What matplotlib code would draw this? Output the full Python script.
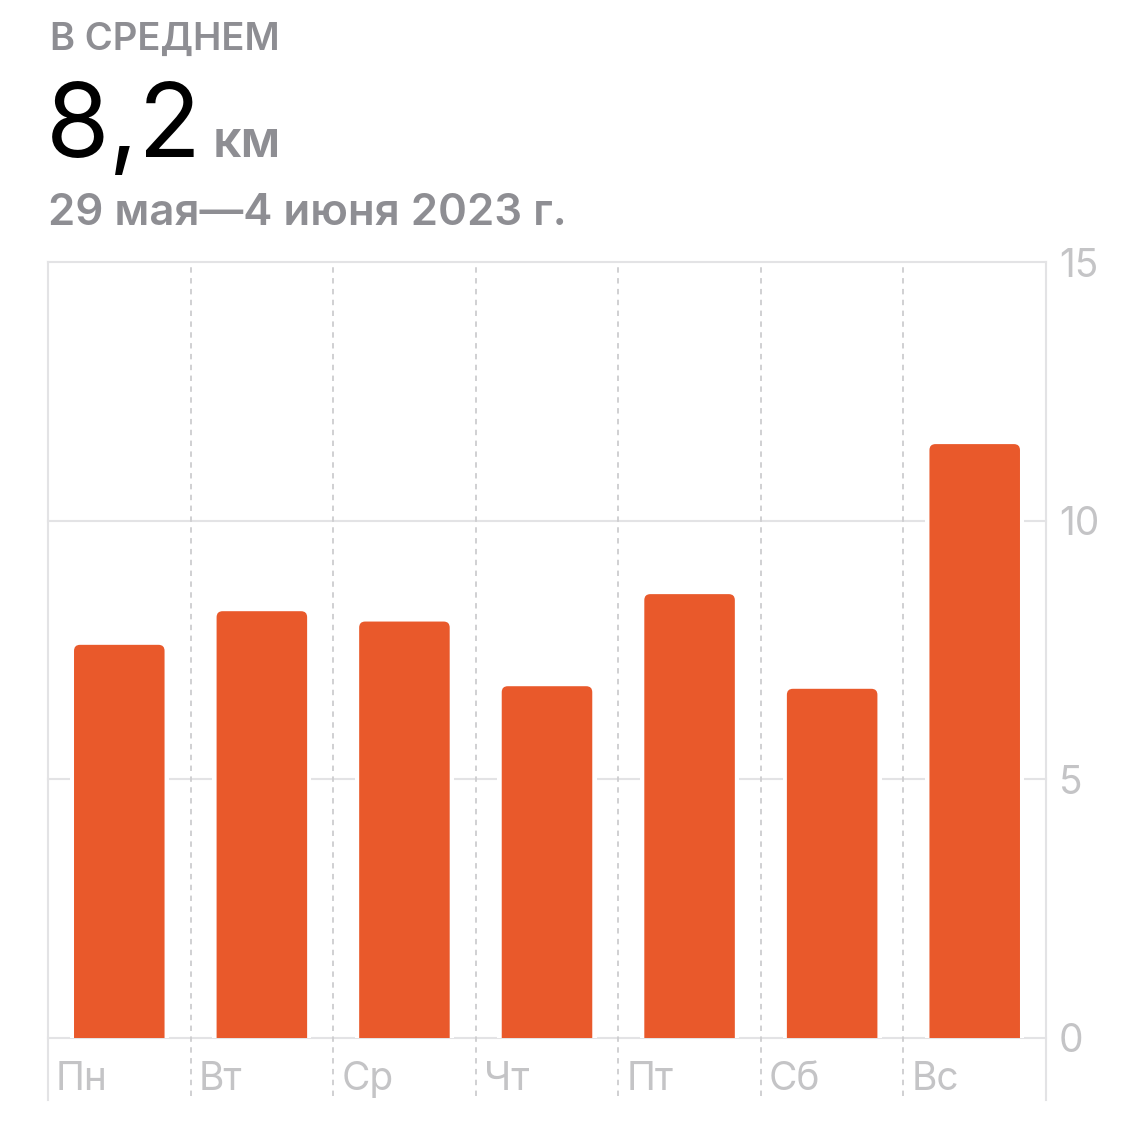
import matplotlib.pyplot as plt
from matplotlib.patches import FancyBboxPatch

# ==================== 数据 ====================
days = ["Пн", "Вт", "Ср", "Чт", "Пт", "Сб", "Вс"]
km = [7.6, 8.25, 8.05, 6.8, 8.58, 6.75, 11.48]
y_ticks = [0, 5, 10, 15]

title_small = "В СРЕДНЕМ"
avg_value = "8,2"
avg_unit = "км"
period = "29 мая—4 июня 2023 г."

# ==================== 样式 ====================
orange = "#E9592B"
gray_text = "#8E8E93"
tick_gray = "#C4C4C6"
grid_gray = "#E3E3E5"
dash_gray = "#CDCDCF"
plt.rcParams['font.family'] = ['Inter', 'DejaVu Sans']

W, H = 1125, 1136
fig = plt.figure(figsize=(W / 100, H / 100), dpi=100)
fig.patch.set_facecolor("white")

# plot area in pixels
left, right, top, bottom = 48, 1046, 262, 1038
ax = fig.add_axes([left / W, (H - bottom) / H, (right - left) / W, (bottom - top) / H])
ax.set_xlim(-0.5, len(days) - 0.5)
ax.set_ylim(0, 15)
ax.axis("off")

ext = -(1100 - bottom) / (bottom - top)  # how far lines go below the axis
sx = (right - left) / len(days)
sy = (bottom - top) / 15

# horizontal grid
for t in y_ticks:
    ax.axhline(t, color=grid_gray, lw=1.5, zorder=1, clip_on=False)
    ax.text(1.013, t - 4 / sy, str(t), transform=ax.get_yaxis_transform(), ha="left",
            va="center", fontsize=28, color=tick_gray)

# outer verticals
for xa in [0, 1]:
    ax.plot([xa, xa], [ext, 1], transform=ax.transAxes, color=grid_gray, lw=1.5,
            clip_on=False, zorder=1)

# dashed separators between days
for i in range(1, len(days)):
    ax.plot([i - 0.5, i - 0.5], [ext * 15 * 0.93, 15], color=dash_gray, lw=1.3,
            linestyle=(0, (3, 3)), clip_on=False, zorder=1)

# bars: white halo to break the grid, then rounded orange bars
x = list(range(len(days)))
bar_w = 0.635
ax.bar(x, [v + 0.08 for v in km], width=bar_w + 0.06, color="white", zorder=2)
r = 6 / sx
for xi, v in zip(x, km):
    p = FancyBboxPatch((xi - bar_w / 2, -1), bar_w, v + 1,
                       boxstyle=f"round,pad=0,rounding_size={r}",
                       mutation_aspect=sx / sy, facecolor=orange, edgecolor="none", zorder=3)
    ax.add_patch(p)

# day labels
for xi, d in zip(x, days):
    ax.text(xi - 0.5 + 8 / sx, -0.8, d, ha="left", va="center", fontsize=28,
            color=tick_gray)

# header texts
fig.text(50 / W, 1 - 40 / H, title_small, fontsize=27.5, color=gray_text, weight="semibold",
         va="center", ha="left")
fig.text(46 / W, 1 - 157 / H, avg_value, fontsize=74, color="black", va="baseline", ha="left")
fig.text(213 / W, 1 - 157 / H, avg_unit, fontsize=36, color=gray_text, weight="semibold",
         va="baseline", ha="left")
fig.text(48 / W, 1 - 225 / H, period, fontsize=31.5, color=gray_text, weight="semibold",
         va="baseline", ha="left")

fig.savefig("out.png", dpi=100)
